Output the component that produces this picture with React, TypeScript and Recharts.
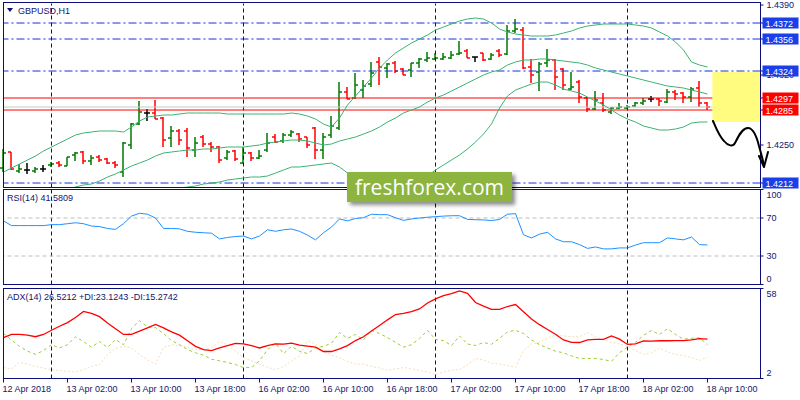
import React from 'react'
import { ComposedChart, Bar, Line, XAxis, YAxis, ReferenceLine, ReferenceArea } from 'recharts'

// GBPUSD H1, 12 Apr 18:00 .. 18 Apr 10:00 (one entry per hourly bar)
const open = [1.4227, 1.4243, 1.4224, 1.4225, 1.4224, 1.4226, 1.4230, 1.4232, 1.4229, 1.4240,
  1.4243, 1.4234, 1.4238, 1.4236, 1.4232, 1.4223, 1.4250, 1.4271, 1.4282, 1.4282,
  1.4277, 1.4257, 1.4264, 1.4264, 1.4245, 1.4258, 1.4251, 1.4248, 1.4237, 1.4244,
  1.4232, 1.4242, 1.4237, 1.4245, 1.4258, 1.4254, 1.4260, 1.4261, 1.4258, 1.4267,
  1.4245, 1.4260, 1.4267, 1.4303, 1.4297, 1.4305, 1.4311, 1.4333, 1.4327, 1.4332,
  1.4326, 1.4325, 1.4332, 1.4335, 1.4336, 1.4336, 1.4337, 1.4341, 1.4344, 1.4338,
  1.4342, 1.4336, 1.4344, 1.4341, 1.4364, 1.4365, 1.4328, 1.4323, 1.4332, 1.4335,
  1.4326, 1.4306, 1.4313, 1.4297, 1.4286, 1.4292, 1.4283, 1.4287, 1.4287, 1.4289,
  1.4292, 1.4296, 1.4296, 1.4293, 1.4303, 1.4302, 1.4298, 1.4307, 1.4292]
const high = [1.4246, 1.4243, 1.4231, 1.4232, 1.4228, 1.4230, 1.4233, 1.4234, 1.4238, 1.4243,
  1.4244, 1.4240, 1.4240, 1.4237, 1.4234, 1.4253, 1.4272, 1.4294, 1.4286, 1.4295,
  1.4278, 1.4269, 1.4266, 1.4267, 1.4258, 1.4260, 1.4253, 1.4249, 1.4245, 1.4245,
  1.4248, 1.4243, 1.4245, 1.4262, 1.4261, 1.4262, 1.4265, 1.4262, 1.4258, 1.4268,
  1.4262, 1.4279, 1.4313, 1.4308, 1.4322, 1.4315, 1.4333, 1.4338, 1.4332, 1.4334,
  1.4327, 1.4332, 1.4337, 1.4343, 1.4342, 1.4342, 1.4344, 1.4354, 1.4346, 1.4338,
  1.4342, 1.4342, 1.4346, 1.4370, 1.4376, 1.4368, 1.4336, 1.4333, 1.4346, 1.4336,
  1.4327, 1.4323, 1.4315, 1.4298, 1.4304, 1.4302, 1.4288, 1.4292, 1.4290, 1.4293,
  1.4297, 1.4299, 1.4297, 1.4306, 1.4305, 1.4303, 1.4308, 1.4314, 1.4293]
const low = [1.4223, 1.4225, 1.4222, 1.4221, 1.4222, 1.4223, 1.4228, 1.4228, 1.4229, 1.4234,
  1.4231, 1.4230, 1.4233, 1.4231, 1.4227, 1.4218, 1.4246, 1.4270, 1.4274, 1.4276,
  1.4248, 1.4248, 1.4250, 1.4238, 1.4238, 1.4248, 1.4243, 1.4232, 1.4235, 1.4234,
  1.4231, 1.4234, 1.4236, 1.4243, 1.4252, 1.4252, 1.4258, 1.4253, 1.4247, 1.4236,
  1.4236, 1.4257, 1.4265, 1.4296, 1.4296, 1.4297, 1.4308, 1.4310, 1.4317, 1.4322,
  1.4320, 1.4318, 1.4327, 1.4333, 1.4335, 1.4335, 1.4336, 1.4340, 1.4337, 1.4333,
  1.4334, 1.4335, 1.4338, 1.4340, 1.4362, 1.4326, 1.4312, 1.4304, 1.4328, 1.4305,
  1.4305, 1.4305, 1.4292, 1.4283, 1.4285, 1.4283, 1.4281, 1.4286, 1.4286, 1.4288,
  1.4290, 1.4293, 1.4289, 1.4292, 1.4295, 1.4292, 1.4293, 1.4288, 1.4285]
const close = [1.4242, 1.4226, 1.4226, 1.4225, 1.4226, 1.4226, 1.4231, 1.4230, 1.4238, 1.4242,
  1.4234, 1.4237, 1.4235, 1.4232, 1.4230, 1.4252, 1.4271, 1.4283, 1.4282, 1.4276,
  1.4255, 1.4264, 1.4255, 1.4247, 1.4252, 1.4251, 1.4248, 1.4235, 1.4243, 1.4236,
  1.4242, 1.4237, 1.4239, 1.4252, 1.4253, 1.4260, 1.4263, 1.4256, 1.4250, 1.4245,
  1.4258, 1.4269, 1.4303, 1.4296, 1.4310, 1.4309, 1.4322, 1.4328, 1.4331, 1.4324,
  1.4320, 1.4332, 1.4336, 1.4337, 1.4337, 1.4338, 1.4340, 1.4342, 1.4337, 1.4338,
  1.4335, 1.4340, 1.4340, 1.4364, 1.4366, 1.4327, 1.4320, 1.4331, 1.4335, 1.4318,
  1.4310, 1.4308, 1.4298, 1.4286, 1.4295, 1.4285, 1.4287, 1.4288, 1.4288, 1.4292,
  1.4294, 1.4296, 1.4294, 1.4303, 1.4301, 1.4298, 1.4306, 1.4292, 1.4288]

// Bollinger bands
const bbUpper = [1.4223, 1.4227, 1.4231, 1.4235, 1.4239, 1.4244, 1.4248, 1.4252, 1.4256, 1.4260,
  1.4262, 1.4263, 1.4264, 1.4264, 1.4264, 1.4263, 1.4268, 1.4274, 1.4278, 1.4279,
  1.4280, 1.4280, 1.4281, 1.4282, 1.4282, 1.4282, 1.4282, 1.4282, 1.4281, 1.4281,
  1.4281, 1.4281, 1.4281, 1.4281, 1.4281, 1.4281, 1.4282, 1.4281, 1.4279, 1.4276,
  1.4271, 1.4268, 1.4277, 1.4290, 1.4299, 1.4308, 1.4317, 1.4327, 1.4335, 1.4342,
  1.4347, 1.4352, 1.4356, 1.4360, 1.4365, 1.4368, 1.4371, 1.4374, 1.4376, 1.4377,
  1.4376, 1.4372, 1.4366, 1.4363, 1.4361, 1.4360, 1.4359, 1.4359, 1.4359, 1.4360,
  1.4362, 1.4364, 1.4367, 1.4369, 1.4370, 1.4371, 1.4371, 1.4371, 1.4371, 1.4370,
  1.4369, 1.4367, 1.4363, 1.4359, 1.4353, 1.4345, 1.4333, 1.4330, 1.4328]
const bbMiddle = [1.4190, 1.4192, 1.4194, 1.4196, 1.4198, 1.4200, 1.4202, 1.4204, 1.4206, 1.4208,
  1.4210, 1.4211, 1.4214, 1.4218, 1.4221, 1.4225, 1.4229, 1.4232, 1.4235, 1.4239,
  1.4242, 1.4243, 1.4244, 1.4245, 1.4245, 1.4246, 1.4246, 1.4247, 1.4248, 1.4248,
  1.4248, 1.4249, 1.4250, 1.4252, 1.4253, 1.4254, 1.4255, 1.4255, 1.4254, 1.4252,
  1.4250, 1.4251, 1.4254, 1.4256, 1.4258, 1.4261, 1.4264, 1.4268, 1.4273, 1.4277,
  1.4282, 1.4285, 1.4288, 1.4293, 1.4297, 1.4300, 1.4304, 1.4308, 1.4312, 1.4316,
  1.4320, 1.4323, 1.4325, 1.4330, 1.4333, 1.4335, 1.4335, 1.4336, 1.4336, 1.4335,
  1.4334, 1.4333, 1.4332, 1.4330, 1.4327, 1.4325, 1.4323, 1.4321, 1.4319, 1.4317,
  1.4315, 1.4313, 1.4311, 1.4309, 1.4308, 1.4307, 1.4305, 1.4303, 1.4301]
const bbLower = [1.4157, 1.4157, 1.4157, 1.4157, 1.4157, 1.4156, 1.4156, 1.4156, 1.4156, 1.4156,
  1.4158, 1.4159, 1.4164, 1.4172, 1.4178, 1.4187, 1.4190, 1.4190, 1.4192, 1.4199,
  1.4204, 1.4206, 1.4207, 1.4208, 1.4209, 1.4211, 1.4212, 1.4213, 1.4215, 1.4216,
  1.4217, 1.4218, 1.4218, 1.4219, 1.4222, 1.4225, 1.4228, 1.4228, 1.4229, 1.4230,
  1.4231, 1.4232, 1.4228, 1.4222, 1.4219, 1.4214, 1.4210, 1.4207, 1.4205, 1.4205,
  1.4206, 1.4209, 1.4214, 1.4219, 1.4225, 1.4230, 1.4235, 1.4240, 1.4246, 1.4253,
  1.4261, 1.4271, 1.4287, 1.4299, 1.4305, 1.4308, 1.4311, 1.4313, 1.4313, 1.4310,
  1.4306, 1.4304, 1.4302, 1.4298, 1.4294, 1.4290, 1.4285, 1.4280, 1.4276, 1.4273,
  1.4269, 1.4267, 1.4265, 1.4265, 1.4266, 1.4268, 1.4272, 1.4273, 1.4273]

const rsi = [67, 62, 62, 62, 62, 62, 63, 63, 64, 65,
  64, 61.5, 61, 59, 58, 64, 72, 75, 74, 70,
  59, 59, 58.6, 56, 55, 54.5, 54, 48, 49.5, 50.5,
  51, 48, 51, 57.6, 56, 57.6, 58.4, 56, 52, 47,
  54.5, 60.5, 69, 67, 69.5, 70.3, 74, 73.5, 73.5, 70.3,
  67.5, 69, 70, 70.8, 71.4, 72, 72.4, 72.4, 68.5, 68.2,
  68, 67.3, 68.5, 74, 74.6, 52.3, 49, 53, 55, 48,
  45, 45, 42, 38, 39.5, 37.5, 37.5, 38.5, 38.5, 41.5,
  44, 44, 44, 49, 48, 47, 50, 42, 41.58]
const adx = [27.5, 29.4, 29.4, 29, 28, 29.4, 32, 34.5, 36.8, 40,
  43.7, 42.5, 40.5, 36.5, 33, 29.4, 29.4, 31.5, 33.5, 35.6,
  33.5, 31, 29, 25.5, 22, 20, 19.4, 21, 22.5, 23.8,
  23.5, 22.5, 21, 22.5, 23.5, 23.4, 24, 22.8, 22.2, 21.5,
  18.8, 18.8, 20.5, 22.5, 25.6, 28, 31.5, 35, 38.5, 41.8,
  42.5, 43.6, 45.3, 49, 51.5, 53.6, 54.8, 56.5, 55, 49.3,
  47, 45, 45, 46.8, 48, 43.5, 39, 35.5, 32.5, 29.5,
  26, 24.5, 24.4, 26, 26.3, 26.3, 28.5, 26.5, 23.2, 23.6,
  25.4, 25.2, 25.5, 25.5, 25.6, 25.6, 26, 26.8, 26.52]
const plusDI = [30, 26, 22, 19, 17, 19.4, 23, 21, 23, 28,
  25, 21.5, 25, 21.3, 26.3, 23, 33, 38, 34, 33.7,
  30, 25.6, 23, 20, 18, 16.5, 14, 13, 12, 10.7,
  8.8, 8.8, 13, 20, 24, 17.5, 22, 19, 17.5, 21,
  22, 24, 30.6, 27, 29.4, 26, 32, 30, 27.5, 24.5,
  21.5, 23, 27, 31.9, 26.3, 25.6, 22.5, 28.5, 23.5, 22.5,
  24.4, 23.3, 27, 31, 32, 30, 26, 23, 21, 19,
  18, 16, 14.5, 14.5, 14.5, 13.8, 12.7, 18, 21.5, 24.5,
  28.8, 31.9, 29.4, 33, 29.4, 26.5, 27, 27.3, 23.12]
const minusDI = [8.8, 8, 12, 11, 9.5, 8.5, 7.5, 7, 6.5, 6,
  7.5, 9.5, 10.5, 17, 20.5, 22, 21, 17, 13.5, 11,
  21.3, 23, 22.5, 21.5, 20, 20, 21, 25, 23, 19,
  15, 13, 11, 9, 7.5, 9.5, 13, 16, 25.6, 23.5,
  19, 16.5, 15, 12.5, 11, 11, 9.5, 8.5, 7, 8,
  8.8, 8, 7, 6, 4.5, 6, 7.2, 7.6, 10.5, 14.5,
  13.5, 11.5, 11, 10, 9, 19.4, 23.5, 24.6, 27.2, 29,
  28.5, 28, 28, 30.5, 28, 26, 24.4, 23.5, 22, 19.4,
  17, 18, 21, 18.5, 17, 16.3, 15, 13.2, 15.27]

const timeTicks = [0, 8, 16, 24, 32, 40, 48, 56, 64, 72, 80, 88]
const timeLabels = ['12 Apr 2018', '13 Apr 02:00', '13 Apr 10:00', '13 Apr 18:00', '16 Apr 02:00', '16 Apr 10:00',
  '16 Apr 18:00', '17 Apr 02:00', '17 Apr 10:00', '17 Apr 18:00', '18 Apr 02:00', '18 Apr 10:00']
const dayStarts = [6, 30, 54, 78]
const priceTicks = [1.425, 1.432, 1.439]
const blueLevels = [1.4372, 1.4356, 1.4324, 1.4212]
const redLevels = [1.4297, 1.4285]
const bidPrice = 1.4288
const rsiTicks = [100, 70, 30, 0]
const rsiLevels = [70, 30]
const adxTicks = [58, 2]

const NAVY = '#0c0c78'
const TEXT = '#14146e'
const FONT = "'Liberation Sans', Arial, sans-serif"
const X_DOMAIN: [number, number] = [0, 94.625]

const bars = open.map((o, i) => ({
  i,
  open: o,
  high: high[i],
  low: low[i],
  close: close[i],
  range: [low[i], high[i]],
  upper: bbUpper[i],
  middle: bbMiddle[i],
  lower: bbLower[i],
  rsi: rsi[i],
  adx: adx[i],
  pdi: plusDI[i],
  mdi: minusDI[i],
}))

// plain price labels first, level tags after so they paint on top
const priceAxisTicks = [...priceTicks, ...blueLevels, ...redLevels]

// OHLC bar: high-low stick, open tick left, close tick right
function OhlcBar(props: any) {
  const { x, y, width, height, payload } = props
  const cx = x + width / 2
  const span = payload.high - payload.low || 1
  const yOf = (v: number) => y + ((payload.high - v) / span) * height
  const color = payload.close > payload.open ? '#007a00' : payload.close < payload.open ? '#ff0000' : '#000000'
  return (
    <g stroke={color} strokeWidth={1.5}>
      <line x1={cx} x2={cx} y1={y} y2={y + height} />
      <line x1={cx - 3} x2={cx} y1={yOf(payload.open)} y2={yOf(payload.open)} />
      <line x1={cx} x2={cx + 3} y1={yOf(payload.close)} y2={yOf(payload.close)} />
    </g>
  )
}

function PriceTick(props: any) {
  const { x, y, payload } = props
  const v = payload.value
  const text = v.toFixed(4)
  const isRed = redLevels.includes(v)
  const isBlue = blueLevels.includes(v)
  if (isRed || isBlue) {
    return (
      <g>
        <rect x={x - 3} y={y - 5.5} width={36} height={11} fill={isRed ? '#ff0000' : '#1a3ee8'} />
        <text x={x} y={y + 3.5} fill="#ffffff" fontSize={9} fontFamily={FONT}>{text}</text>
      </g>
    )
  }
  return (
    <text x={x + 1} y={y + 3} fill={TEXT} fontSize={9} fontFamily={FONT}>{text}</text>
  )
}

function EdgeTick(props: any) {
  const { x, y, payload, top, bottom } = props
  const dy = payload.value === top ? 8.5 : payload.value === bottom ? -2.5 : 3
  return (
    <text x={x + 1} y={y + dy} fill={TEXT} fontSize={9} fontFamily={FONT}>{payload.value}</text>
  )
}

function TimeTick(props: any) {
  const { x, y, payload } = props
  const label = timeLabels[timeTicks.indexOf(payload.value)]
  return (
    <text x={x - 1} y={y + 7} fill={TEXT} fontSize={9} fontFamily={FONT}>{label}</text>
  )
}

const dayLines = (prefix: string) =>
  dayStarts.map((d) => (
    <ReferenceLine key={prefix + d} x={d} stroke={NAVY} strokeDasharray="4 3" />
  ))

export default function App() {
  return (
    <div style={{ position: 'absolute', left: 0, top: 0, width: 800, height: 400, background: '#fff', overflow: 'hidden' }}>
      {/* price panel */}
      <div style={{ position: 'absolute', left: 0, top: 0 }}>
        <ComposedChart width={800} height={190} data={bars} margin={{ top: 3.5, right: 0, bottom: 2.5, left: 3.5 }}>
          <XAxis type="number" dataKey="i" domain={X_DOMAIN} hide />
          <YAxis
            orientation="right"
            width={39.5}
            domain={[1.42075, 1.43915]}
            allowDataOverflow
            ticks={priceAxisTicks}
            interval={0}
            tickSize={3}
            axisLine={{ stroke: NAVY }}
            tickLine={{ stroke: NAVY }}
            tick={<PriceTick />}
          />
          {dayLines('p')}
          <ReferenceLine y={bidPrice} stroke="#c8c8c8" />
          {blueLevels.map((v) => (
            <ReferenceLine key={v} y={v} stroke="#1030e0" strokeDasharray="8 3 2 3" />
          ))}
          {redLevels.map((v) => (
            <ReferenceLine key={v} y={v} stroke="#ff0000" />
          ))}
          <Line dataKey="upper" stroke="#3cb371" strokeWidth={1} dot={false} activeDot={false} isAnimationActive={false} />
          <Line dataKey="middle" stroke="#3cb371" strokeWidth={1} dot={false} activeDot={false} isAnimationActive={false} />
          <Line dataKey="lower" stroke="#3cb371" strokeWidth={1} dot={false} activeDot={false} isAnimationActive={false} />
          <Bar dataKey="range" barSize={7} shape={(p: any) => <OhlcBar {...p} />} isAnimationActive={false} />
          <ReferenceArea x1={88.6} x2={94.625} y1={1.4273} y2={1.4323} fill="#fffc80" fillOpacity={1} stroke="none" zIndex={450} />
        </ComposedChart>
      </div>

      {/* RSI panel */}
      <div style={{ position: 'absolute', left: 0, top: 186 }}>
        <ComposedChart width={800} height={100} data={bars} margin={{ top: 3.5, right: 0, bottom: 1.5, left: 3.5 }}>
          <XAxis type="number" dataKey="i" domain={X_DOMAIN} hide />
          <YAxis
            orientation="right"
            width={39.5}
            domain={[0, 100]}
            ticks={rsiTicks}
            interval={0}
            tickSize={3}
            axisLine={{ stroke: NAVY }}
            tickLine={{ stroke: NAVY }}
            tick={<EdgeTick top={100} bottom={0} />}
          />
          {dayLines('r')}
          {rsiLevels.map((v) => (
            <ReferenceLine key={v} y={v} stroke="#bdbdbd" strokeDasharray="4 3" />
          ))}
          <Line dataKey="rsi" stroke="#1e90ff" strokeWidth={1} dot={false} activeDot={false} isAnimationActive={false} />
        </ComposedChart>
      </div>

      {/* ADX panel */}
      <div style={{ position: 'absolute', left: 0, top: 286 }}>
        <ComposedChart width={800} height={114} data={bars} margin={{ top: 2.5, right: 0, bottom: 0, left: 3.5 }}>
          <XAxis
            type="number"
            dataKey="i"
            domain={X_DOMAIN}
            ticks={timeTicks}
            interval={0}
            height={21.5}
            tickSize={4}
            axisLine={{ stroke: NAVY }}
            tickLine={{ stroke: NAVY }}
            tick={<TimeTick />}
          />
          <YAxis
            orientation="right"
            width={39.5}
            domain={[2, 58]}
            allowDataOverflow
            ticks={adxTicks}
            interval={0}
            tickSize={3}
            axisLine={{ stroke: NAVY }}
            tickLine={{ stroke: NAVY }}
            tick={<EdgeTick top={58} bottom={2} />}
          />
          {dayLines('a')}
          <Line dataKey="mdi" stroke="#f5deb3" strokeWidth={1} strokeDasharray="2 2" dot={false} activeDot={false} isAnimationActive={false} />
          <Line dataKey="pdi" stroke="#9acd32" strokeWidth={1} strokeDasharray="3 3" dot={false} activeDot={false} isAnimationActive={false} />
          <Line dataKey="adx" stroke="#ff0000" strokeWidth={1.3} dot={false} activeDot={false} isAnimationActive={false} />
        </ComposedChart>
      </div>

      {/* frames, titles and the hand-drawn forecast arrow */}
      <svg width={800} height={400} style={{ position: 'absolute', left: 0, top: 0, pointerEvents: 'none' }}>
        <g fill="none" stroke={NAVY} strokeWidth={1}>
          <rect x={3.5} y={2.5} width={757} height={185} />
          <rect x={3.5} y={189.5} width={757} height={95} />
          <rect x={3.5} y={288.5} width={757} height={90} />
        </g>
        <polygon points="7,8 13,8 10,12" fill={NAVY} />
        <text x={18} y={14} fill={TEXT} fontSize={9} fontFamily={FONT}>GBPUSD,H1</text>
        <text x={7} y={201} fill={TEXT} fontSize={9} fontFamily={FONT}>RSI(14) 41.5809</text>
        <text x={7} y={300} fill={TEXT} fontSize={9} fontFamily={FONT}>ADX(14) 26.5212 +DI:23.1243 -DI:15.2742</text>
        <g fill="none" stroke="#000" strokeWidth={2} strokeLinecap="round" strokeLinejoin="round">
          <path d="M713,121 C716,128 719,136 724,141 C728,146 733,147 735,143 C738,137 742,128 748,128 C754,128 757,138 759,146 C761,153 763,160 764,166" />
          <path d="M759,156 L764,167 L768,152" />
        </g>
      </svg>

      {/* watermark */}
      <div
        style={{
          position: 'absolute',
          left: 347,
          top: 172,
          width: 165,
          height: 30,
          background: '#8cb43f',
          boxShadow: '3px 3px 4px rgba(0,0,0,0.45)',
          color: '#fff',
          fontFamily: "'Open Sans', sans-serif",
          fontSize: 21,
          lineHeight: '30px',
          textAlign: 'center',
        }}
      >
        freshforex.com
      </div>
    </div>
  )
}
